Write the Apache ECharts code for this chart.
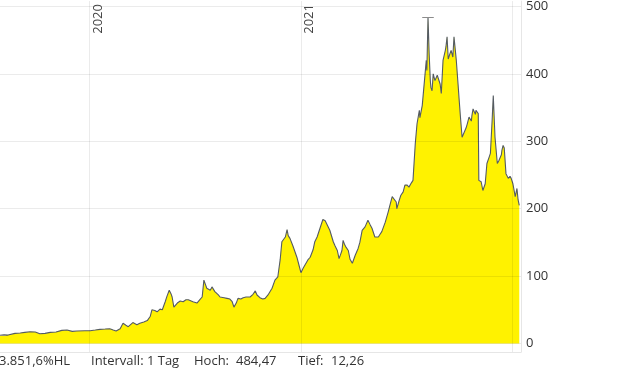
<!DOCTYPE html>
<html>
<head>
<meta charset="utf-8">
<script src="https://cdn.jsdelivr.net/npm/echarts@6/dist/echarts.min.js"></script>
<style>
html,body{margin:0;padding:0;background:#fff;}
#chart{width:620px;height:372px;}
</style>
</head>
<body>
<div id="chart"></div>
<script>
const dates = [
'2019-07-30','2019-08-06','2019-08-13','2019-08-16','2019-08-25','2019-09-03','2019-09-11','2019-09-20','2019-09-29','2019-10-07',
'2019-10-16','2019-10-25','2019-11-04','2019-11-14','2019-11-23','2019-12-02','2019-12-10','2019-12-24','2020-01-02','2020-01-11',
'2020-01-19','2020-01-28','2020-02-05','2020-02-11','2020-02-16','2020-02-23','2020-02-28','2020-03-04','2020-03-08','2020-03-11',
'2020-03-16','2020-03-23','2020-03-28','2020-04-04','2020-04-10','2020-04-15','2020-04-18','2020-04-23','2020-04-27','2020-05-02',
'2020-05-06','2020-05-11','2020-05-14','2020-05-18','2020-05-21','2020-05-23','2020-05-26','2020-06-01','2020-06-06','2020-06-11',
'2020-06-16','2020-06-20','2020-06-23','2020-06-28','2020-07-05','2020-07-10','2020-07-14','2020-07-17','2020-07-22','2020-07-28',
'2020-07-31','2020-08-05','2020-08-11','2020-08-14','2020-08-21','2020-08-26','2020-08-31','2020-09-04','2020-09-07','2020-09-11',
'2020-09-14','2020-09-19','2020-09-23','2020-09-28','2020-10-05','2020-10-10','2020-10-14','2020-10-17','2020-10-22','2020-10-27',
'2020-10-31','2020-11-05','2020-11-12','2020-11-17','2020-11-22','2020-11-26','2020-11-29','2020-12-05','2020-12-08','2020-12-10',
'2020-12-13','2020-12-18','2020-12-25','2020-12-29','2021-01-01','2021-01-05','2021-01-08','2021-01-13','2021-01-17','2021-01-22',
'2021-01-25','2021-01-29','2021-02-03','2021-02-08','2021-02-12','2021-02-15','2021-02-20','2021-02-26','2021-03-01','2021-03-05',
'2021-03-08','2021-03-11','2021-03-13','2021-03-15','2021-03-18','2021-03-20','2021-03-24','2021-03-27','2021-03-31','2021-04-05',
'2021-04-10','2021-04-13','2021-04-17','2021-04-22','2021-04-27','2021-05-01','2021-05-04','2021-05-09','2021-05-15','2021-05-18',
'2021-05-21','2021-05-27','2021-06-01','2021-06-04','2021-06-08','2021-06-11','2021-06-15','2021-06-16','2021-06-20','2021-06-23',
'2021-06-27','2021-06-30','2021-07-04','2021-07-07','2021-07-11','2021-07-14','2021-07-18','2021-07-21','2021-07-25','2021-07-26',
'2021-07-30','2021-08-02','2021-08-06','2021-08-07','2021-08-09','2021-08-11','2021-08-13','2021-08-14','2021-08-16','2021-08-18',
'2021-08-21','2021-08-25','2021-08-28','2021-08-30','2021-09-01','2021-09-04','2021-09-08','2021-09-09','2021-09-11','2021-09-13',
'2021-09-16','2021-09-18','2021-09-21','2021-09-23','2021-09-27','2021-09-30','2021-10-02','2021-10-04','2021-10-07','2021-10-10',
'2021-10-14','2021-10-16','2021-10-19','2021-10-23','2021-10-24','2021-10-26','2021-10-30','2021-10-31','2021-11-04','2021-11-05',
'2021-11-09','2021-11-12','2021-11-16','2021-11-19','2021-11-23','2021-11-25','2021-11-28','2021-11-30','2021-12-03','2021-12-07',
'2021-12-08','2021-12-10','2021-12-14','2021-12-15','2021-12-17','2021-12-19','2021-12-22','2021-12-26','2021-12-29','2021-12-31',
'2022-01-03','2022-01-07','2022-01-10','2022-01-12','2022-01-14'
];
const prices = [
12.26,12.8,12.5,14.5,15,15.5,16.5,17.5,17,14.5,
15,16.5,17,19.5,20,18,18.5,19,19,20,
21,21.5,22,20,18.5,22,30,27,25,22.5,
31,28,30,32,34,40,50,49,47,51,
50,62,70,79,74,69,54,60,63,62,
65,65,63,62,60,65,69,94,82,79,
84,77,72,69,68,67,66,62,54,60,
67,66,68,69,69,73,78,72,68,66,
67,72,82,94,99,124,151,158,169,160,
156,145,128,115,105,112,114,124,128,139,
151,158,171,184,182,180,168,151,145,138,
126,133,138,153,146,143,138,125,119,131,
141,150,168,173,183,176,171,158,158,162,
166,180,195,205,218,217,210,200,212,220,
225,235,235,232,238,242,297,326,346,335,
353,351,420,405,484.47,430,390,380,375,400,
390,398,400,385,371,420,435,440,455,422,
430,435,425,455,420,385,361,338,306,307,
320,326,336,330,338,348,340,346,341,242,
240,227,237,267,277,282,331,368,306,267,
267,272,280,287,294,290,252,245,248,245,
237,218,230,213,205
];
const yTicks = [0, 100, 200, 300, 400, 500];
const yearTicks = ['2020-01-01', '2021-01-01', '2022-01-01'];
const yearLabels = ['2020-01-01', '2021-01-01'];
const intervalText = 'Intervall: 1 Tag';

const FONT = '"Open Sans", "Noto Sans", sans-serif';
function fmtDE(v, dec) {
  const s = v.toFixed(dec);
  let [ip, fp] = s.split('.');
  ip = ip.replace(/\B(?=(\d{3})+(?!\d))/g, '.');
  return fp ? ip + ',' + fp : ip;
}
const hi = Math.max(...prices), lo = Math.min(...prices);
const hiIdx = prices.indexOf(hi), loIdx = prices.indexOf(lo);
const pctHL = (hi / lo - 1) * 100;
const DAY = 86400000;
const t = d => new Date(d + 'T00:00:00Z').getTime();
const xMin = t('2019-07-30'), xMax = t('2022-01-17');
const seriesData = dates.map((d, i) => [t(d), prices[i]]);

const chart = echarts.init(document.getElementById('chart'), null, {renderer: 'canvas'});
const textStyle = {fontFamily: FONT, fontSize: 13, fill: '#333'};
chart.setOption({
  animation: false,
  grid: {left: 0, right: 99, top: 0, bottom: 20, containLabel: false},
  xAxis: [{
    type: 'value', position: 'top', min: xMin, max: xMax, z: 5, scale: true,
    axisLine: {show: false},
    axisTick: {show: false, customValues: yearTicks.map(t)},
    axisLabel: {
      show: true, inside: true, rotate: 90, margin: 3,
      customValues: yearLabels.map(t),
      formatter: v => String(new Date(v).getUTCFullYear()),
      color: '#444', fontFamily: FONT, fontSize: 13,
      align: 'right', verticalAlign: 'top', padding: [2, 0, 0, 0]
    },
    splitLine: {show: true, lineStyle: {color: 'rgba(0,0,0,0.08)', width: 1}}
  }, {
    type: 'value', position: 'bottom', min: xMin, max: xMax, z: 5, scale: true,
    axisLine: {show: true, lineStyle: {color: '#e6e6e6', width: 1}},
    axisTick: {show: false}, axisLabel: {show: false}, splitLine: {show: false}
  }],
  yAxis: {
    type: 'value', position: 'right', min: -12.6, max: 508.1, z: 5,
    axisLine: {show: true, lineStyle: {color: '#e6e6e6', width: 1}},
    axisTick: {show: false, customValues: yTicks},
    axisLabel: {
      customValues: yTicks, margin: 5, color: '#333', fontFamily: FONT, fontSize: 13
    },
    splitLine: {show: true, lineStyle: {color: 'rgba(0,0,0,0.08)', width: 1}}
  },
  series: [{
    type: 'line', xAxisIndex: 0, data: seriesData, showSymbol: false, symbol: 'none',
    lineStyle: {color: '#545b63', width: 1.1},
    areaStyle: {color: '#fff200', opacity: 1},
    markLine: {
      silent: true, symbol: 'none', label: {show: false},
      lineStyle: {color: '#8c8c8c', width: 1, type: 'solid'},
      data: [
        [{coord: [t(dates[hiIdx]) - 10 * DAY, hi]}, {coord: [t(dates[hiIdx]) + 10 * DAY, hi]}],
        [{coord: [Math.max(xMin, t(dates[loIdx]) - 10 * DAY), lo]}, {coord: [t(dates[loIdx]) + 10 * DAY, lo]}]
      ]
    }
  }],
  graphic: [
    {type: 'text', left: -1, top: 355, style: Object.assign({text: fmtDE(pctHL, 1) + '%HL'}, textStyle)},
    {type: 'text', left: 91, top: 355, style: Object.assign({text: intervalText}, textStyle)},
    {type: 'text', left: 194, top: 355, style: Object.assign({text: 'Hoch:'}, textStyle)},
    {type: 'text', left: 236, top: 355, style: Object.assign({text: fmtDE(hi, 2)}, textStyle)},
    {type: 'text', left: 298, top: 355, style: Object.assign({text: 'Tief:'}, textStyle)},
    {type: 'text', left: 331, top: 355, style: Object.assign({text: fmtDE(lo, 2)}, textStyle)}
  ]
});
</script>
</body>
</html>
